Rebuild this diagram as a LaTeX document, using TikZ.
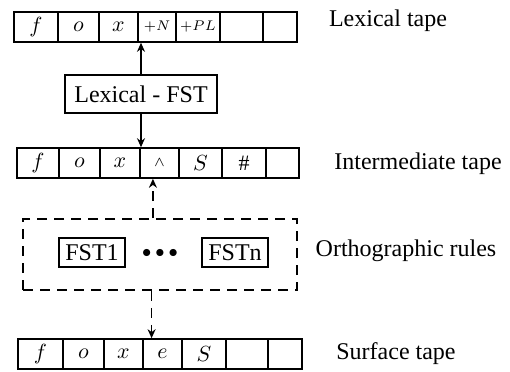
\documentclass[tikz,border=0pt]{standalone}
\usepackage{fontspec}
\setmainfont{Liberation Serif}
\usepackage{amsmath,amssymb}
\usetikzlibrary{arrows.meta, positioning, calc}

\begin{document}
\begin{tikzpicture}[
  x=0.5pt, y=-0.5pt,
  % one square of a tape; width supplied per node as cell=<width>
  cell/.style={
    rectangle, draw=black, line width=0.8pt,
    minimum width=#1, minimum height=15pt,
    inner sep=0pt, font=\fontsize{11}{13}\selectfont
  },
  fstbox/.style={
    rectangle, draw=black, line width=0.8pt,
    inner xsep=3.3pt, inner ysep=1pt, minimum height=14.5pt,
    font=\fontsize{12}{14}\selectfont
  },
  rulebox/.style={
    rectangle, draw=black, line width=0.9pt,
    dash pattern=on 5pt off 3.5pt
  },
  tapelabel/.style={font=\fontsize{12}{14}\selectfont},
  arr/.style={-{Stealth[length=4.5pt,width=4pt]}, black, line width=0.8pt},
  dasharr/.style={arr, dash pattern=on 5pt off 3.5pt},
]
\useasboundingbox (0,0) rectangle (510,371);

%% ── Lexical tape ───────────────────────────────────────────────────────────
\node[cell=22pt]   (lx1) at (36,27)    {$f$};
\node[cell=20.5pt] (lx2) at (78.5,27)  {$o$};
\node[cell=19.5pt] (lx3) at (118.5,27) {$x$};
\node[cell=19pt]   (lx4) at (157,27)   {\scriptsize$+N$};
\node[cell=22pt]   (lx5) at (198,27)   {\scriptsize$+PL$};
\node[cell=21.5pt] (lx6) at (241.5,27) {};
\node[cell=17pt]   (lx7) at (280,27)   {};

%% ── Lexical FST ────────────────────────────────────────────────────────────
\node[fstbox, minimum width=76pt, minimum height=19pt] (lexfst) at (141,94) {Lexical - FST};

%% ── Intermediate tape ──────────────────────────────────────────────────────
\node[cell=21pt]   (im1) at (38,163)    {$f$};
\node[cell=20.5pt] (im2) at (79.5,163)  {$o$};
\node[cell=20pt]   (im3) at (120,163)   {$x$};
\node[cell=19.5pt] (im4) at (159.5,163) {\scriptsize$\wedge$};
\node[cell=21.5pt] (im5) at (200.5,163) {$S$};
\node[cell=22pt]   (im6) at (244,163)   {$\#$};
\node[cell=16.5pt] (im7) at (282.5,163) {};

%% ── Orthographic rules (dashed frame) ──────────────────────────────────────
\node[rulebox, minimum width=137pt, minimum height=35.5pt] (rules) at (160,254.5) {};
\node[fstbox] (fst1) at (92,252.5)  {FST1};
\node[font=\fontsize{9.5}{11}\selectfont, inner sep=0pt] (dots) at (160,253) {$\bullet\bullet\bullet$};
\node[fstbox] (fstn) at (235,252.5) {FSTn};

%% ── Surface tape ───────────────────────────────────────────────────────────
\node[cell=22.5pt] (sf1) at (40.5,354)  {$f$};
\node[cell=20.5pt] (sf2) at (83.5,354)  {$o$};
\node[cell=19.5pt] (sf3) at (123.5,354) {$x$};
\node[cell=19.5pt] (sf4) at (162.5,354) {$e$};
\node[cell=22pt]   (sf5) at (204,354)   {$S$};
\node[cell=21pt]   (sf6) at (247,354)   {};
\node[cell=17pt]   (sf7) at (285,354)   {};

%% ── Labels ─────────────────────────────────────────────────────────────────
\node[tapelabel] (lexlbl)  at (388,21)  {Lexical tape};
\node[tapelabel] (intlbl)  at (418,164) {Intermediate tape};
\node[tapelabel] (ortlbl)  at (406,251) {Orthographic rules};
\node[tapelabel] (surflbl) at (396,354) {Surface tape};

%% ── Arrows ─────────────────────────────────────────────────────────────────
\draw[arr] (lexfst.north) -- (lexfst.north |- lx4.south);
\draw[arr] (lexfst.south) -- (lexfst.south |- im4.north);
\draw[dasharr] (rules.101) -- (rules.101 |- im4.south);
\draw[dasharr] (rules.257) -- (rules.257 |- sf4.north);

\end{tikzpicture}
\end{document}
